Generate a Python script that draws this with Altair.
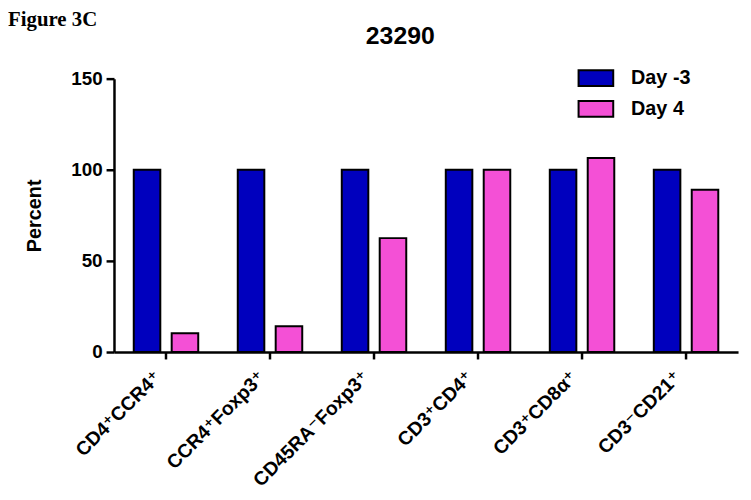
import altair as alt
import pandas as pd

categories = ["CD4⁺CCR4⁺", "CCR4⁺Foxp3⁺", "CD45RA⁻Foxp3⁺", "CD3⁺CD4⁺", "CD3⁺CD8α⁺", "CD3⁻CD21⁺"]
series = ["Day -3", "Day 4"]
day_minus3 = [100, 100, 100, 100, 100, 100]
day_4 = [10.3, 14.1, 62.5, 100, 106.5, 89.1]
colors = ["#0000BE", "#F450D6"]
y_ticks = [0, 50, 100, 150]
chart_title = "23290"
fig_label = "Figure 3C"

SANS = "Liberation Sans, Arial, DejaVu Sans"

rows = []
for c, a, b in zip(categories, day_minus3, day_4):
    rows.append({"cat": c, "series": series[0], "value": a})
    rows.append({"cat": c, "series": series[1], "value": b})
df = pd.DataFrame(rows)

bars = alt.Chart(df).mark_bar(stroke="black", strokeWidth=2, opacity=1).encode(
    x=alt.X(
        "cat:N",
        sort=categories,
        scale=alt.Scale(paddingInner=0.38, paddingOuter=0.19),
        axis=alt.Axis(
            title=None, labelAngle=-45, labelAlign="right", labelBaseline="middle",
            labelFont=SANS, labelFontSize=19.5, labelFontWeight="bold", labelColor="black",
            tickSize=7, tickWidth=2.5, tickColor="black",
            domainColor="black", domainWidth=2.5, labelPadding=15, labelOffset=-8,
        ),
    ),
    xOffset=alt.XOffset("series:N", sort=series, scale=alt.Scale(paddingInner=0.3, paddingOuter=0)),
    y=alt.Y(
        "value:Q",
        scale=alt.Scale(domain=[0, 150], nice=False),
        axis=alt.Axis(
            values=y_ticks, title="Percent", grid=False,
            labelFont=SANS, labelFontSize=19, labelFontWeight="bold", labelColor="black",
            titleFont=SANS, titleFontSize=20, titleFontWeight="bold", titleColor="black",
            titlePadding=26, tickSize=8, tickWidth=2.5, tickColor="black",
            domainColor="black", domainWidth=2.5, labelPadding=4,
        ),
    ),
    color=alt.Color(
        "series:N",
        sort=series,
        scale=alt.Scale(domain=series, range=colors),
        legend=alt.Legend(
            title=None, orient="none", legendX=468, legendY=-19,
            symbolType="M-1,-0.45H1V0.45H-1Z", symbolSize=1225,
            symbolStrokeColor="black", symbolStrokeWidth=2, symbolOpacity=1,
            labelFont=SANS, labelFontSize=20, labelFontWeight="bold", labelColor="black",
            labelOffset=17, rowPadding=0, padding=0,
        ),
    ),
)

fig = alt.Chart(pd.DataFrame({"t": [fig_label]})).mark_text(
    align="left", baseline="alphabetic", font="Liberation Serif",
    fontWeight="bold", fontSize=21, color="black",
).encode(x=alt.value(-107), y=alt.value(-53), text="t:N")

title = alt.Chart(pd.DataFrame({"t": [chart_title]})).mark_text(
    align="center", baseline="alphabetic", font=SANS,
    fontWeight="bold", fontSize=25, color="black",
).encode(x=alt.value(289), y=alt.value(-35), text="t:N")

chart = alt.layer(bars, fig, title).properties(
    width=630,
    height=276,
    autosize=alt.AutoSizeParams(type="none"),
    padding={"left": 107, "top": 69, "right": 5, "bottom": 140},
).configure_view(stroke=None)

chart.save("out.html", embed_options={"renderer": "svg", "actions": False})
